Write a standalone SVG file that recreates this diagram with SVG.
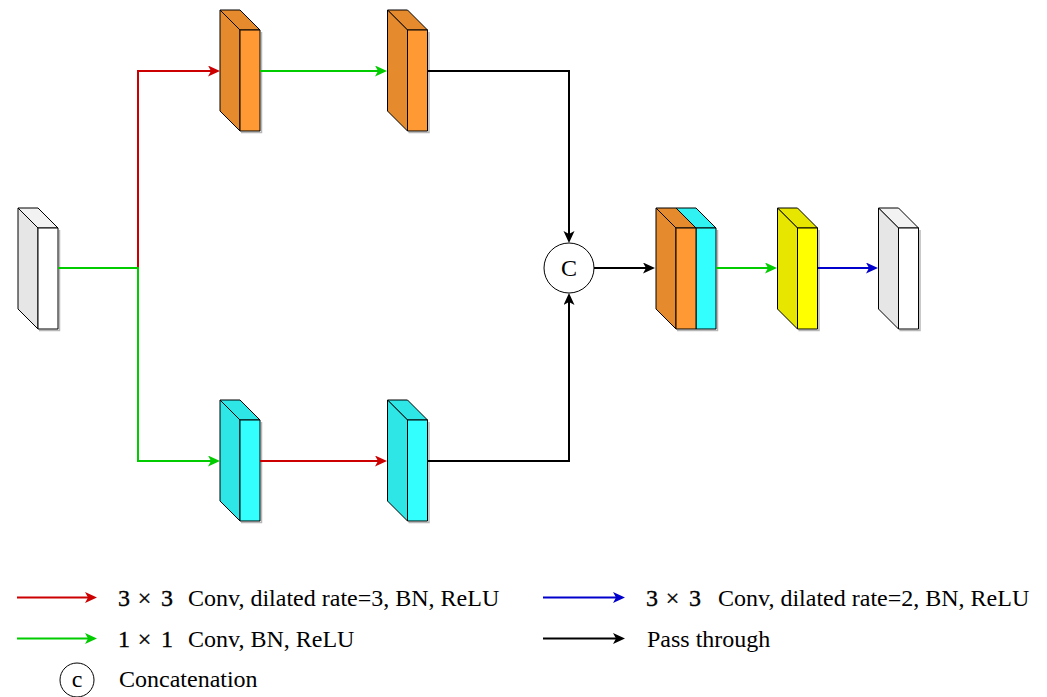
<svg xmlns="http://www.w3.org/2000/svg" width="1047" height="697" viewBox="0 0 1047 697">
<style>
.edge{fill:none;stroke-width:2}
.r{stroke:#CC0000}.g{stroke:#00CC00}.b{stroke:#0000CC}.k{stroke:#000}
.face{stroke:#000;stroke-width:1;stroke-linejoin:round}
.shadow{fill:none;stroke:#999;stroke-width:1.5;opacity:0.7}
.t{font-family:"Liberation Serif","Times New Roman",serif;font-size:24px;fill:#000}
.m{font-family:"Liberation Serif","Times New Roman",serif;font-size:24px;fill:#000;stroke:#000;stroke-width:0.35;text-anchor:middle}
</style>
<defs>
<marker id="ar" markerUnits="userSpaceOnUse" markerWidth="14" markerHeight="12" refX="8" refY="5.5" orient="auto"><path d="M0,0 L12,5.5 L0,11 L3,5.5 Z" fill="#CC0000"/></marker>
<marker id="ag" markerUnits="userSpaceOnUse" markerWidth="14" markerHeight="12" refX="8" refY="5.5" orient="auto"><path d="M0,0 L12,5.5 L0,11 L3,5.5 Z" fill="#00CC00"/></marker>
<marker id="ab" markerUnits="userSpaceOnUse" markerWidth="14" markerHeight="12" refX="8" refY="5.5" orient="auto"><path d="M0,0 L12,5.5 L0,11 L3,5.5 Z" fill="#0000CC"/></marker>
<marker id="ak" markerUnits="userSpaceOnUse" markerWidth="14" markerHeight="12" refX="8" refY="5.5" orient="auto"><path d="M0,0 L12,5.5 L0,11 L3,5.5 Z" fill="#000"/></marker>
</defs>

<g id="input">
<path class="shadow" d="M59.5,230 V330.5 H39"/>
<polygon class="face" fill="#F2F2F2" points="18,208 38,208 58,228 38,228"/>
<polygon class="face" fill="#E6E6E6" points="18,208 38,228 38,329 18,309"/>
<rect class="face" fill="#FFFFFF" x="38" y="228" width="20" height="101"/>
</g>

<g id="orange1">
<path class="shadow" d="M261.5,32 V132.5 H241"/>
<polygon class="face" fill="#E68A2E" points="220,10 240,10 260,30 240,30"/>
<polygon class="face" fill="#E68A2E" points="220,10 240,30 240,131 220,111"/>
<rect class="face" fill="#FF9933" x="240" y="30" width="20" height="101"/>
</g>

<g id="orange2">
<path class="shadow" d="M429,32 V132.5 H408.5"/>
<polygon class="face" fill="#E68A2E" points="387.5,10 407.5,10 427.5,30 407.5,30"/>
<polygon class="face" fill="#E68A2E" points="387.5,10 407.5,30 407.5,131 387.5,111"/>
<rect class="face" fill="#FF9933" x="407.5" y="30" width="20" height="101"/>
</g>

<g id="cyan1">
<path class="shadow" d="M261.5,422 V522.5 H241"/>
<polygon class="face" fill="#2EE6E6" points="220,400 240,400 260,420 240,420"/>
<polygon class="face" fill="#2EE6E6" points="220,400 240,420 240,521 220,501"/>
<rect class="face" fill="#33FFFF" x="240" y="420" width="20" height="101"/>
</g>

<g id="cyan2">
<path class="shadow" d="M429,422 V522.5 H408.5"/>
<polygon class="face" fill="#2EE6E6" points="387.5,400 407.5,400 427.5,420 407.5,420"/>
<polygon class="face" fill="#2EE6E6" points="387.5,400 407.5,420 407.5,521 387.5,501"/>
<rect class="face" fill="#33FFFF" x="407.5" y="420" width="20" height="101"/>
</g>

<g id="concat">
<circle cx="569" cy="268" r="25" fill="#FFFFFF" stroke="#000" stroke-width="1"/>
<text class="t" x="569" y="276" text-anchor="middle">C</text>
</g>

<g id="merged">
<path class="shadow" d="M717.5,230 V330.5 H677"/>
<polygon class="face" fill="#30F2F2" points="676,208 696,208 716,228 696,228"/>
<rect class="face" fill="#33FFFF" x="696" y="228" width="20" height="101"/>
<polygon class="face" fill="#E68A2E" points="656,208 676,208 696,228 676,228"/>
<polygon class="face" fill="#E68A2E" points="656,208 676,228 676,329 656,309"/>
<rect class="face" fill="#FF9933" x="676" y="228" width="20" height="101"/>
</g>

<g id="yellow">
<path class="shadow" d="M819,230 V330.5 H798.5"/>
<polygon class="face" fill="#E6E600" points="777.5,208 797.5,208 817.5,228 797.5,228"/>
<polygon class="face" fill="#E6E600" points="777.5,208 797.5,228 797.5,329 777.5,309"/>
<rect class="face" fill="#FFFF00" x="797.5" y="228" width="20" height="101"/>
</g>

<g id="output">
<path class="shadow" d="M920,230 V330.5 H899.5"/>
<polygon class="face" fill="#F2F2F2" points="878.5,208 898.5,208 918.5,228 898.5,228"/>
<polygon class="face" fill="#E6E6E6" points="878.5,208 898.5,228 898.5,329 878.5,309"/>
<rect class="face" fill="#FFFFFF" x="898.5" y="228" width="20" height="101"/>
</g>

<g id="connectors">
<path class="edge r" d="M138,268 V71 H216" marker-end="url(#ar)"/>
<path class="edge g" d="M58,268 H138 V461 H216" marker-end="url(#ag)"/>
<path class="edge g" d="M260,71 H383" marker-end="url(#ag)"/>
<path class="edge k" d="M428,71 H569 V239" marker-end="url(#ak)"/>
<path class="edge r" d="M260,461 H383" marker-end="url(#ar)"/>
<path class="edge k" d="M428,461 H569 V297" marker-end="url(#ak)"/>
<path class="edge k" d="M594,268 H651" marker-end="url(#ak)"/>
<path class="edge g" d="M716,268 H773" marker-end="url(#ag)"/>
<path class="edge b" d="M818,268 H874" marker-end="url(#ab)"/>
</g>

<g id="legend">
<path class="edge r" d="M17,597.5 H93" marker-end="url(#ar)"/>
<text class="m" y="606"><tspan x="124">3</tspan><tspan x="144.5">×</tspan><tspan x="167">3</tspan></text>
<text class="t" x="188" y="606">Conv, dilated rate=3, BN, ReLU</text>
<path class="edge g" d="M17,638.5 H93" marker-end="url(#ag)"/>
<text class="m" y="647"><tspan x="124">1</tspan><tspan x="144.5">×</tspan><tspan x="167">1</tspan></text>
<text class="t" x="188" y="647">Conv, BN, ReLU</text>
<circle cx="77" cy="680" r="17" fill="#FFFFFF" stroke="#000" stroke-width="1"/>
<text class="t" x="77" y="687" text-anchor="middle">c</text>
<text class="t" x="119" y="687">Concatenation</text>
<path class="edge b" d="M543,597.5 H621" marker-end="url(#ab)"/>
<text class="m" y="606"><tspan x="652">3</tspan><tspan x="672.5">×</tspan><tspan x="695">3</tspan></text>
<text class="t" x="718" y="606">Conv, dilated rate=2, BN, ReLU</text>
<path class="edge k" d="M543,638.5 H621" marker-end="url(#ak)"/>
<text class="t" x="647" y="647">Pass through</text>
</g>
</svg>
